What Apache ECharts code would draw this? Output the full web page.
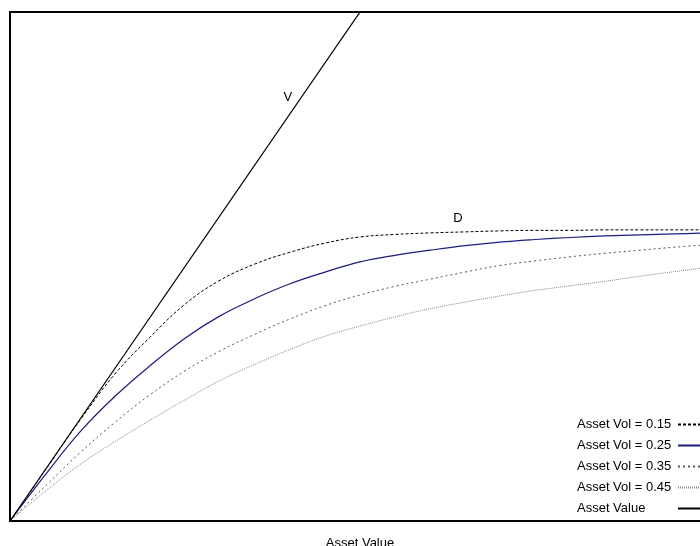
<!DOCTYPE html>
<html><head><meta charset="utf-8">
<script src="https://cdn.jsdelivr.net/npm/echarts@6/dist/echarts.min.js"></script>
<style>html,body{margin:0;padding:0;background:#fff}#c{width:700px;height:546px}</style>
</head><body><div id="c"></div>
<script>
var assetValues = [0, 0.1, 0.2, 0.3, 0.4, 0.5, 0.6, 0.7, 0.8, 0.9, 1.0, 1.1, 1.2, 1.3, 1.4, 1.5, 1.6, 1.7, 1.8, 1.9, 2.0];
var vol015 = [0, 0.099, 0.198, 0.289, 0.361, 0.426, 0.473, 0.505, 0.528, 0.546, 0.558, 0.563, 0.566, 0.568, 0.570, 0.571, 0.571, 0.572, 0.572, 0.572, 0.572];
var vol025 = [0, 0.090, 0.175, 0.245, 0.305, 0.359, 0.403, 0.437, 0.466, 0.489, 0.509, 0.522, 0.532, 0.541, 0.548, 0.553, 0.557, 0.560, 0.562, 0.564, 0.566];
var vol035 = [0, 0.068, 0.134, 0.194, 0.248, 0.295, 0.334, 0.367, 0.397, 0.423, 0.444, 0.461, 0.475, 0.489, 0.502, 0.511, 0.519, 0.526, 0.532, 0.538, 0.543];
var vol045 = [0, 0.058, 0.111, 0.156, 0.198, 0.238, 0.276, 0.308, 0.337, 0.363, 0.383, 0.401, 0.417, 0.430, 0.442, 0.453, 0.462, 0.471, 0.481, 0.490, 0.499];
var assetLine = [0, 2.0];
var assetLineX = [0, 2.0];
var seriesNames = ['Asset Vol = 0.15', 'Asset Vol = 0.25', 'Asset Vol = 0.35', 'Asset Vol = 0.45', 'Asset Value'];
var labelV = [0.794, 0.833];
var labelD = [1.28, 0.595];

function pairs(xs, ys) { return xs.map(function (x, i) { return [x, ys[i]]; }); }

var chart = echarts.init(document.getElementById('c'), null, { renderer: 'canvas' });
var font = 'Liberation Sans, Arial, Helvetica, sans-serif';
var lineStyles = [
  { color: '#000', width: 1, type: [3, 2] },
  { color: '#1c1c80', width: 1.2, type: 'solid' },
  { color: '#555', width: 1, type: [2, 3] },
  { color: '#888', width: 1, type: [1, 1] },
  { color: '#000', width: 1.2, type: 'solid' }
];
var dataSets = [vol015, vol025, vol035, vol045];
var series = dataSets.map(function (d, i) {
  return {
    name: seriesNames[i], type: 'line', data: pairs(assetValues, d),
    smooth: 0.4, symbol: 'none', lineStyle: lineStyles[i], itemStyle: { color: lineStyles[i].color },
    clip: true, animation: false
  };
});
series.push({
  name: seriesNames[4], type: 'line', data: pairs(assetLineX, assetLine),
  symbol: 'none', lineStyle: lineStyles[4], itemStyle: { color: '#000' }, clip: true, animation: false,
  markPoint: {
    symbol: 'circle', symbolSize: 0, animation: false,
    label: { show: true, position: 'inside', color: '#000', fontSize: 13, fontFamily: font, formatter: function (p) { return p.name; } },
    data: [ { name: 'V', coord: labelV }, { name: 'D', coord: labelD } ]
  }
});

chart.setOption({
  animation: false,
  grid: { left: 10, right: -10, top: 12, bottom: 25, outerBoundsMode: 'none', containLabel: false, show: true, borderColor: '#000', borderWidth: 2, backgroundColor: '#fff' },
  xAxis: {
    type: 'value', min: 0, max: 2,
    name: 'Asset Value', nameLocation: 'middle', nameGap: 16,
    nameTextStyle: { fontSize: 13, fontFamily: font, color: '#000' },
    axisLine: { show: true, lineStyle: { color: '#000', width: 2 } },
    axisTick: { show: false }, axisLabel: { show: false }, splitLine: { show: false }
  },
  yAxis: {
    type: 'value', min: 0, max: 1,
    axisLine: { show: true, lineStyle: { color: '#000', width: 2 } },
    axisTick: { show: false }, axisLabel: { show: false }, splitLine: { show: false }
  },
  legend: {
    orient: 'vertical', left: 572, top: 413, align: 'right',
    itemWidth: 28, itemHeight: 14, itemGap: 8,
    itemStyle: { opacity: 0 },
    formatter: function (n) { return '{t|' + n + '}'; },
    textStyle: { fontSize: 13, fontFamily: font, color: '#000',
      rich: { t: { width: 96, align: 'left', fontSize: 13, fontFamily: font, color: '#000' } } },
    data: seriesNames
  },
  series: series
});
</script></body></html>
